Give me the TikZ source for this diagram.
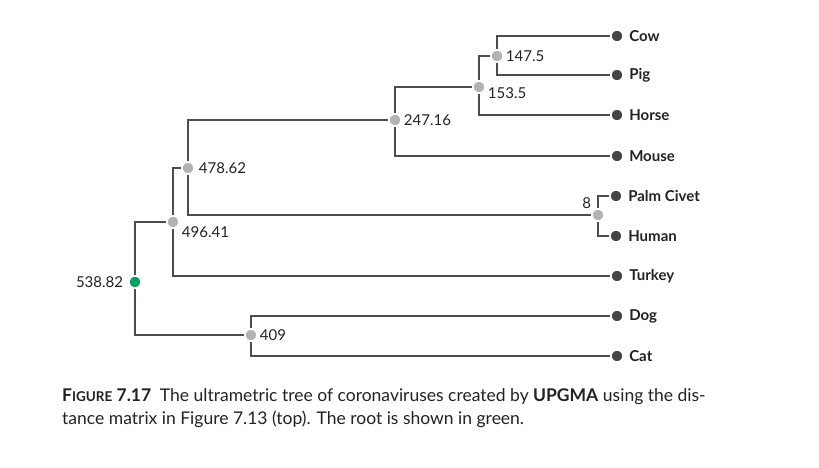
\documentclass[tikz,border=0pt]{standalone}
\usepackage{fontspec}
\setmainfont{Lato}
\usepackage{tikz}

\definecolor{linegray}{HTML}{4D4D4D}
\definecolor{leafgray}{HTML}{454545}
\definecolor{innergray}{HTML}{B3B3B3}
\definecolor{rootgreen}{HTML}{00A260}
\definecolor{textgray}{HTML}{222222}

\begin{document}
\begin{tikzpicture}[x=1pt,y=-1pt,
  leaf/.style={circle,fill=leafgray,draw=white,line width=1.5pt,inner sep=0pt,minimum size=12pt,
    label={[font=\fontsize{15}{16}\selectfont\bfseries,text=textgray,label distance=2pt]right:#1}},
  inner/.style={circle,fill=innergray,draw=white,line width=1.5pt,inner sep=0pt,minimum size=12pt},
  num/.style={font=\fontsize{15}{16}\selectfont,text=textgray,inner sep=1pt},
  edge/.style={draw=linegray,line width=1.8pt}]
\useasboundingbox (0,0) rectangle (819,468);

% leaves
\node[leaf=Cow] (cow) at (617,36) {};
\node[leaf=Pig] (pig) at (617,75) {};
\node[leaf=Horse] (horse) at (617,115) {};
\node[leaf=Mouse] (mouse) at (617,156) {};
\node[leaf=Palm Civet] (civet) at (616,196) {};
\node[leaf=Human] (human) at (616,236) {};
\node[leaf=Turkey] (turkey) at (617,276) {};
\node[leaf=Dog] (dog) at (617,316) {};
\node[leaf=Cat] (cat) at (617,356) {};

% inner nodes
\node[inner,label={[num,anchor=west,xshift=1pt]east:147.5}] (n147) at (497,56) {};
\node[inner,label={[num,anchor=west,xshift=1pt,yshift=-6pt]east:153.5}] (n153) at (479,87) {};
\node[inner,label={[num,anchor=west,xshift=1pt]east:247.16}] (n247) at (395,120) {};
\node[inner,label={[num,anchor=west,xshift=3pt]east:478.62}] (n478) at (188,168) {};
\node[inner,label={[num,anchor=west,xshift=1pt,yshift=-10pt]east:496.41}] (n496) at (173,222) {};
\node[inner,label={[num,anchor=south east,xshift=-1pt]north west:8}] (n8) at (598,215) {};
\node[inner,label={[num,anchor=west,xshift=1pt]east:409}] (n409) at (251,335) {};
\node[circle,fill=rootgreen,draw=white,line width=1.5pt,inner sep=0pt,minimum size=12pt,
  label={[num,anchor=east,xshift=-4pt]west:538.82}] (root) at (135,282) {};

% branches
\draw[edge] (n147) |- (cow);   \draw[edge] (n147) |- (pig);
\draw[edge] (n153) |- (n147);  \draw[edge] (n153) |- (horse);
\draw[edge] (n247) |- (n153);  \draw[edge] (n247) |- (mouse);
\draw[edge] (n8) |- (civet);   \draw[edge] (n8) |- (human);
\draw[edge] (n478) |- (n247);  \draw[edge] (n478) |- (n8);
\draw[edge] (n496) |- (n478);  \draw[edge] (n496) |- (turkey);
\draw[edge] (n409) |- (dog);   \draw[edge] (n409) |- (cat);
\draw[edge] (root) |- (n496);  \draw[edge] (root) |- (n409);

% caption
\node[anchor=base west,align=left,inner sep=0pt,text=textgray,font=\fontsize{17.5}{23}\selectfont] (caption) at (62,424)
  {\textbf{F{\fontsize{13.5}{14}\selectfont IGURE} 7.17}\enspace The ultrametric tree of coronaviruses created by \textbf{UPGMA} using the dis-\\
   tance matrix in Figure 7.13 (top). The root is shown in green.};
\end{tikzpicture}
\end{document}
